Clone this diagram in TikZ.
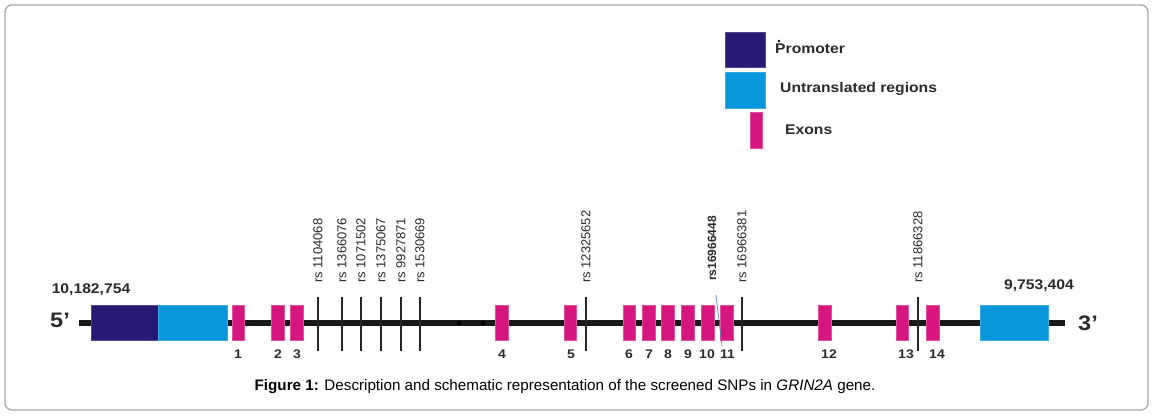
\documentclass[tikz,border=0pt]{standalone}
\usepackage{fontspec}
\setmainfont{Liberation Sans}
\newfontfamily\df[FakeStretch=1.12]{Liberation Sans}
\definecolor{promc}{HTML}{281A72}
\definecolor{utrc}{HTML}{0A96DC}
\definecolor{exonc}{HTML}{D5167F}
\definecolor{framec}{HTML}{A8A8A8}
\definecolor{txtc}{HTML}{2A2A2A}
\definecolor{slantc}{HTML}{5C7FB4}
\tikzset{
  box/.style={rectangle, inner sep=0pt, minimum height=35pt},
  exon/.style={box, fill=exonc, draw=exonc!75!white, line width=0.6pt, minimum width=12.5pt},
  promoter/.style={box, fill=promc, draw=promc!80!white, line width=0.6pt},
  utr/.style={box, fill=utrc, draw=utrc!80!white, line width=0.6pt},
  snpline/.style={line width=1.5pt, draw=black!85},
  snplab/.style={rotate=90, anchor=west, inner sep=0pt, text=txtc, font=\fontsize{13}{14}\selectfont},
  num/.style={inner sep=0pt, text=txtc, font=\df\bfseries\fontsize{12.5}{14}\selectfont},
  bigl/.style={inner sep=0pt, text=txtc, font=\df\bfseries\fontsize{14}{16}\selectfont},
  endl/.style={inner sep=0pt, text=txtc, font=\df\bfseries\fontsize{21}{24}\selectfont},
}
\begin{document}
\begin{tikzpicture}[x=1pt,y=-1pt]
\useasboundingbox (0,0) rectangle (1155,415);
% frame
\draw[framec, line width=1.3pt, rounded corners=7pt] (5,5) rectangle (1148,410);

% legend
\node[promoter, minimum width=40pt, minimum height=35pt] (lp) at (745,49.5) {};
\node[utr, minimum width=40pt, minimum height=36pt] (lu) at (745,90) {};
\node[exon, minimum height=36pt] (le) at (756.5,130) {};
\node[bigl, anchor=west] (tp) at (775,49) {Promoter};
\fill[black] (779,41) circle (1.4pt);
\node[bigl, anchor=west] (tu) at (780,89) {Untranslated regions};
\node[bigl, anchor=west] (te) at (785,130) {Exons};

% main line
\coordinate (L) at (79,323);
\coordinate (R) at (1065,323);
\draw[line width=5.5pt, black!90] (L) -- (R);
\fill[black] (459,323) circle (2.6pt);
\fill[black] (483,323) circle (2.6pt);

% UTRs and promoter
\node[promoter, minimum width=67pt] (prom) at (124.5,323) {};
\node[utr, minimum width=69pt] (utr5) at (192.5,323) {};
\node[utr, minimum width=68pt] (utr3) at (1014,323) {};

\node[bigl] (c5) at (91,289.5) {10,182,754};
\node[bigl] (c3) at (1039,285.5) {9,753,404};
\node[endl] (p5) at (60,320) {5’};
\node[endl] (p3) at (1088,323) {3’};

% exons
\foreach \n/\x in {1/238.5,2/278,3/297,4/502,5/570.5,6/629.5,7/649,8/668,9/688,10/708,11/727,12/825,13/902.5,14/933}{
  \node[exon] (e\n) at (\x,323) {};
}
% exon numbers
\foreach \n/\x in {1/238,2/278,3/297,4/502,5/571,6/629,7/649,8/668,9/688,10/707,11/727.5,12/829,13/906,14/937}{
  \node[num] (n\n) at (\x,354) {\n};
}

% SNPs
\foreach \i/\x/\lab in {1/318/rs 1104068,2/342/rs 1366076,3/361/rs 1071502,4/381/rs 1375067,5/401/rs 9927871,6/420/rs 1530669,7/586/rs 12325652,8/742/rs 16966381,9/918/rs 11866328}{
  \coordinate (s\i t) at (\x,297);
  \coordinate (s\i b) at (\x,351);
  \draw[snpline] (s\i t) -- (s\i b);
  \node[snplab] (sl\i) at (\x,283) {\lab};
}
\node[snplab, font=\bfseries\fontsize{12}{13}\selectfont] (sl10) at (712,281) {rs16966448};
\coordinate (d1) at (716,295);
\coordinate (d2) at (722,346);
\draw[slantc, line width=0.7pt] (d1) -- (d2);

% caption
\node[inner sep=0pt, text=black, font=\fontsize{15.2}{17}\selectfont] (cap) at (565,387)
  {\textbf{Figure 1:} Description and schematic representation of the screened SNPs in \textit{GRIN2A} gene.};
\end{tikzpicture}
\end{document}
